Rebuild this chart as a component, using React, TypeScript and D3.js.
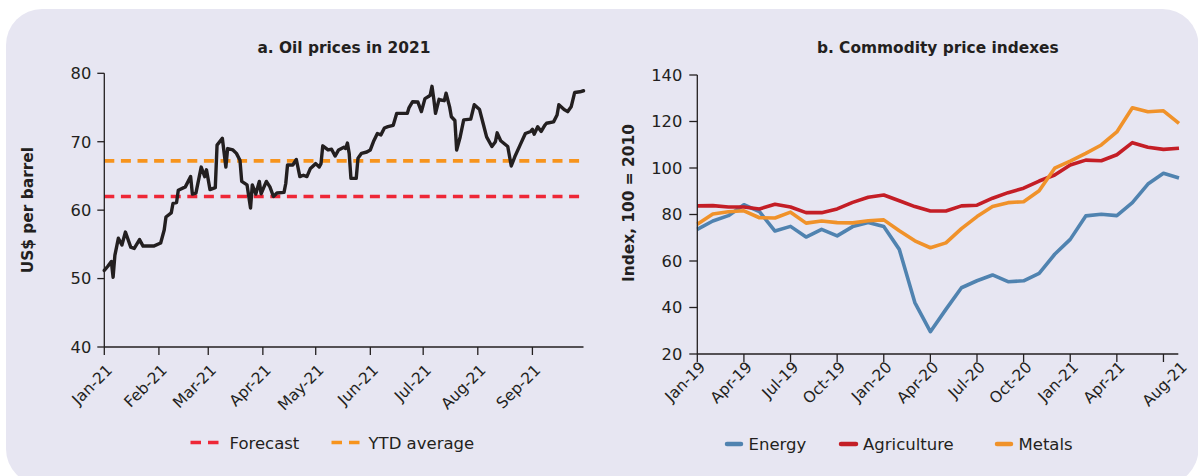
import React from "react";
import * as d3 from "d3";

// ---- Panel a: oil prices in 2021 (US$ per barrel) ----
const oilDates = [
  "2021-01-01","2021-01-03","2021-01-05","2021-01-06","2021-01-07","2021-01-09","2021-01-11","2021-01-13",
  "2021-01-16","2021-01-18","2021-01-21","2021-01-23","2021-01-29","2021-02-02","2021-02-04","2021-02-05",
  "2021-02-08","2021-02-09","2021-02-11","2021-02-12","2021-02-16","2021-02-19","2021-02-20","2021-02-22",
  "2021-02-25","2021-02-27","2021-02-28","2021-03-02","2021-03-05","2021-03-06","2021-03-09","2021-03-11",
  "2021-03-12","2021-03-15","2021-03-17","2021-03-19","2021-03-20","2021-03-23","2021-03-25","2021-03-26",
  "2021-03-28","2021-03-30","2021-03-31","2021-04-03","2021-04-05","2021-04-07","2021-04-09","2021-04-13",
  "2021-04-14","2021-04-15","2021-04-18","2021-04-20","2021-04-22","2021-04-24","2021-04-26","2021-04-28",
  "2021-05-01","2021-05-03","2021-05-04","2021-05-05","2021-05-08","2021-05-10","2021-05-12","2021-05-14",
  "2021-05-17","2021-05-18","2021-05-19","2021-05-20","2021-05-21","2021-05-24","2021-05-25","2021-05-27",
  "2021-05-30","2021-06-01","2021-06-03","2021-06-05","2021-06-07","2021-06-09","2021-06-11","2021-06-14",
  "2021-06-16","2021-06-22","2021-06-23","2021-06-25","2021-06-28","2021-06-30","2021-07-02","2021-07-04",
  "2021-07-05","2021-07-06","2021-07-07","2021-07-08","2021-07-10","2021-07-11","2021-07-13","2021-07-14",
  "2021-07-16","2021-07-17","2021-07-19","2021-07-20","2021-07-22","2021-07-24","2021-07-28","2021-07-30",
  "2021-08-02","2021-08-04","2021-08-06","2021-08-09","2021-08-11","2021-08-12","2021-08-14","2021-08-18",
  "2021-08-20","2021-08-22","2021-08-25","2021-08-28","2021-08-31","2021-09-01","2021-09-02","2021-09-04",
  "2021-09-06","2021-09-08","2021-09-09","2021-09-13","2021-09-15","2021-09-16","2021-09-19","2021-09-21",
  "2021-09-23","2021-09-25","2021-09-28","2021-09-30",
];
const oilPrices = [
  51.2, 51.8, 52.5, 50.2, 53.4, 55.9, 54.9, 56.8,
  54.6, 54.4, 55.7, 54.75, 54.75, 55.2, 57.1, 59.0,
  59.6, 61.0, 61.1, 62.9, 63.4, 64.9, 62.35, 62.5,
  66.3, 64.9, 65.9, 63.0, 63.3, 69.5, 70.5, 66.3,
  69.0, 68.8, 68.3, 67.3, 64.2, 63.7, 60.3, 63.7,
  62.35, 64.2, 62.4, 64.2, 63.4, 62.0, 62.5, 62.6,
  63.9, 66.6, 66.6, 67.4, 64.9, 65.1, 64.9, 66.1,
  66.8, 66.3, 66.8, 69.4, 68.8, 68.9, 67.9, 68.8,
  69.2, 69.0, 69.8, 68.3, 64.65, 64.65, 67.6, 68.3,
  68.5, 68.8, 70.15, 71.2, 71.0, 72.0, 72.2, 72.4,
  74.15, 74.15, 75.0, 75.85, 75.8, 74.4, 76.3, 76.6,
  76.8, 78.1, 76.3, 74.15, 76.2, 76.1, 76.0, 77.1,
  75.1, 73.65, 73.1, 68.8, 70.7, 73.2, 73.3, 75.4,
  74.7, 72.7, 70.7, 69.3, 70.0, 71.3, 70.15, 69.3,
  66.45, 67.8, 69.5, 71.2, 71.5, 71.8, 71.1, 72.2,
  71.5, 72.4, 72.7, 72.9, 73.9, 75.4, 74.7, 74.4,
  75.1, 77.2, 77.3, 77.45,
];
const forecastPrice = 62;
const ytdAverage = 67.2;
const oilYTicks = [40, 50, 60, 70, 80];
const oilMonthLabels = ["Jan-21", "Feb-21", "Mar-21", "Apr-21", "May-21", "Jun-21", "Jul-21", "Aug-21", "Sep-21"];

// ---- Panel b: commodity price indexes (monthly, 100 = 2010) ----
const months = [
  "2019-01","2019-02","2019-03","2019-04","2019-05","2019-06","2019-07","2019-08",
  "2019-09","2019-10","2019-11","2019-12","2020-01","2020-02","2020-03","2020-04",
  "2020-05","2020-06","2020-07","2020-08","2020-09","2020-10","2020-11","2020-12",
  "2021-01","2021-02","2021-03","2021-04","2021-05","2021-06","2021-07","2021-08",
];
const energy = [
  73.6, 77.2, 79.5, 84.2, 81.2, 72.9, 74.9, 70.3,
  73.6, 70.8, 74.8, 76.6, 74.8, 65.0, 42.1, 29.6,
  39.2, 48.5, 51.5, 54.0, 51.1, 51.5, 54.7, 62.9,
  69.3, 79.4, 80.1, 79.5, 85.1, 93.1, 97.7, 95.7,
];
const agriculture = [
  83.7, 83.8, 83.2, 83.2, 82.4, 84.4, 83.2, 80.8,
  80.8, 82.4, 85.2, 87.4, 88.4, 85.9, 83.4, 81.5,
  81.5, 83.7, 84.0, 87.0, 89.4, 91.3, 94.4, 97.0,
  101.3, 103.4, 103.1, 105.7, 110.9, 108.9, 108.0, 108.5,
];
const metals = [
  75.8, 80.2, 81.2, 81.6, 78.6, 78.5, 81.0, 76.3,
  77.2, 76.5, 76.4, 77.3, 77.7, 73.0, 68.7, 65.7,
  67.8, 73.9, 79.1, 83.4, 85.1, 85.5, 90.2, 99.9,
  103.0, 106.3, 109.9, 115.5, 125.9, 124.2, 124.6, 119.2,
];
const indexYTicks = [20, 40, 60, 80, 100, 120, 140];
const indexTickMonths = ["2019-01","2019-04","2019-07","2019-10","2020-01","2020-04","2020-07","2020-10","2021-01","2021-04","2021-07"];
const indexLabelMonths = ["2019-01","2019-04","2019-07","2019-10","2020-01","2020-04","2020-07","2020-10","2021-01","2021-04","2021-08"];
const indexTickLabels = ["Jan-19","Apr-19","Jul-19","Oct-19","Jan-20","Apr-20","Jul-20","Oct-20","Jan-21","Apr-21","Aug-21"];

const INK = "#231f20";
const FONT = "'DejaVu Sans', 'Open Sans', sans-serif";
const RED = "#ee2737";
const ORANGE = "#f7941d";
const seriesColors = { energy: "#5083b0", agriculture: "#c41e26", metals: "#f0922a" };

export default function App() {
  const W = 1198;
  const H = 476;

  // panel a scales
  const parse = d3.timeParse("%Y-%m-%d");
  const oilX = d3
    .scaleTime()
    .domain([new Date(2021, 0, 1), new Date(2021, 8, 30)])
    .range([104.3, 583.5]);
  const oilY = d3.scaleLinear().domain([40, 80]).range([347, 73.3]);
  const oilSeries = oilDates.map((d, i) => ({ date: parse(d) as Date, v: oilPrices[i] }));
  const oilLine = d3
    .line<{ date: Date; v: number }>()
    .x((d) => oilX(d.date))
    .y((d) => oilY(d.v));
  const [ox0, ox1] = oilX.range();
  const oy0 = oilY(40);

  // panel b scales
  const idxX = d3.scalePoint<string>().domain(months).range([697.3, 1179]);
  const idxY = d3.scaleLinear().domain([20, 140]).range([354, 75]);
  const idxLine = (vals: number[]) =>
    d3
      .line<number>()
      .x((_, i) => idxX(months[i]) as number)
      .y((v) => idxY(v))(vals) as string;
  const bx0 = idxX(months[0]) as number;
  const bx1 = 1178.3;
  const by0 = idxY(20);

  const yTickFont = { fontFamily: FONT, fontSize: 16.3, fill: INK } as const;
  const xTickFont = { fontFamily: FONT, fontSize: 15.5, fill: INK } as const;
  const titleFont = { fontFamily: FONT, fontSize: 15.4, fontWeight: 700, fill: INK } as const;
  const legendFont = { fontFamily: FONT, fontSize: 16.5, fill: INK } as const;

  return (
    <svg
      width={W}
      height={H}
      style={{ position: "absolute", left: 0, top: 0, background: "#ffffff" }}
    >
      <rect x={6} y={9} width={1192.5} height={476} rx={36} ry={36} fill="#e7e6f2" />

      {/* ---------- Panel a ---------- */}
      <text x={(ox0 + ox1) / 2} y={53} textAnchor="middle" {...titleFont}>
        a. Oil prices in 2021
      </text>
      <text transform={`translate(33, ${(oilY(40) + oilY(80)) / 2}) rotate(-90)`} textAnchor="middle" {...titleFont}>
        US$ per barrel
      </text>

      {/* reference lines */}
      <line x1={ox0} x2={ox1} y1={oilY(forecastPrice)} y2={oilY(forecastPrice)} stroke={RED} strokeWidth={3.6} strokeDasharray="10 6.6" />
      <line x1={ox0} x2={ox1} y1={oilY(ytdAverage)} y2={oilY(ytdAverage)} stroke={ORANGE} strokeWidth={3.6} strokeDasharray="10 6.6" />

      <path d={oilLine(oilSeries) as string} fill="none" stroke={INK} strokeWidth={3.4} strokeLinejoin="round" strokeLinecap="round" />

      {/* axes */}
      <line x1={ox0} x2={ox0} y1={oilY(80)} y2={oy0} stroke={INK} strokeWidth={1.3} />
      <line x1={ox0} x2={ox1} y1={oy0} y2={oy0} stroke={INK} strokeWidth={1.3} />
      {oilYTicks.map((t) => (
        <g key={"oy" + t}>
          <line x1={ox0 - 7} x2={ox0} y1={oilY(t)} y2={oilY(t)} stroke={INK} strokeWidth={1.3} />
          <text x={ox0 - 13} y={oilY(t)} dy="0.36em" textAnchor="end" {...yTickFont}>
            {t}
          </text>
        </g>
      ))}
      {oilMonthLabels.map((lab, i) => {
        const x = oilX(new Date(2021, i, 1));
        return (
          <g key={lab}>
            <line x1={x} x2={x} y1={oy0} y2={oy0 + 8} stroke={INK} strokeWidth={1.3} />
            <text transform={`translate(${x + 9}, ${oy0 + 24}) rotate(-45)`} textAnchor="end" {...xTickFont}>
              {lab}
            </text>
          </g>
        );
      })}

      {/* legend a */}
      <g>
        <line x1={190.5} x2={218.5} y1={442.5} y2={442.5} stroke={RED} strokeWidth={3.6} strokeDasharray="10.5 7" />
        <text x={229.5} y={449} {...legendFont}>Forecast</text>
        <line x1={331.5} x2={359.5} y1={442.5} y2={442.5} stroke={ORANGE} strokeWidth={3.6} strokeDasharray="10.5 7" />
        <text x={368.5} y={449} {...legendFont}>YTD average</text>
      </g>

      {/* ---------- Panel b ---------- */}
      <text x={(bx0 + bx1) / 2} y={53} textAnchor="middle" {...titleFont}>
        b. Commodity price indexes
      </text>
      <text transform={`translate(634, 203) rotate(-90)`} textAnchor="middle" {...titleFont}>
        Index, 100 = 2010
      </text>

      <path d={idxLine(energy)} fill="none" stroke={seriesColors.energy} strokeWidth={3.6} strokeLinejoin="round" />
      <path d={idxLine(agriculture)} fill="none" stroke={seriesColors.agriculture} strokeWidth={3.6} strokeLinejoin="round" />
      <path d={idxLine(metals)} fill="none" stroke={seriesColors.metals} strokeWidth={3.6} strokeLinejoin="round" />

      <line x1={bx0} x2={bx0} y1={idxY(140)} y2={by0} stroke={INK} strokeWidth={1.3} />
      <line x1={bx0} x2={bx1} y1={by0} y2={by0} stroke={INK} strokeWidth={1.3} />
      {indexYTicks.map((t) => (
        <g key={"iy" + t}>
          <line x1={bx0 - 8} x2={bx0} y1={idxY(t)} y2={idxY(t)} stroke={INK} strokeWidth={1.3} />
          <text x={bx0 - 15} y={idxY(t)} dy="0.36em" textAnchor="end" {...yTickFont}>
            {t}
          </text>
        </g>
      ))}
      {indexTickMonths.map((m) => {
        const x = idxX(m) as number;
        return <line key={m} x1={x} x2={x} y1={by0} y2={by0 + 8} stroke={INK} strokeWidth={1.3} />;
      })}
      {indexLabelMonths.map((m, i) => {
        const x = idxX(m) as number;
        return (
          <text key={"l" + m} transform={`translate(${x + 9}, ${by0 + 14}) rotate(-45)`} textAnchor="end" {...xTickFont}>
            {indexTickLabels[i]}
          </text>
        );
      })}

      {/* legend b */}
      <g>
        <line x1={727} x2={741} y1={444} y2={444} stroke={seriesColors.energy} strokeWidth={4.5} strokeLinecap="round" />
        <text x={748.5} y={450} {...legendFont}>Energy</text>
        <line x1={841} x2={856} y1={444} y2={444} stroke={seriesColors.agriculture} strokeWidth={4.5} strokeLinecap="round" />
        <text x={863} y={450} {...legendFont}>Agriculture</text>
        <line x1={997} x2={1011} y1={444} y2={444} stroke={seriesColors.metals} strokeWidth={4.5} strokeLinecap="round" />
        <text x={1018.5} y={450} {...legendFont}>Metals</text>
      </g>
    </svg>
  );
}
